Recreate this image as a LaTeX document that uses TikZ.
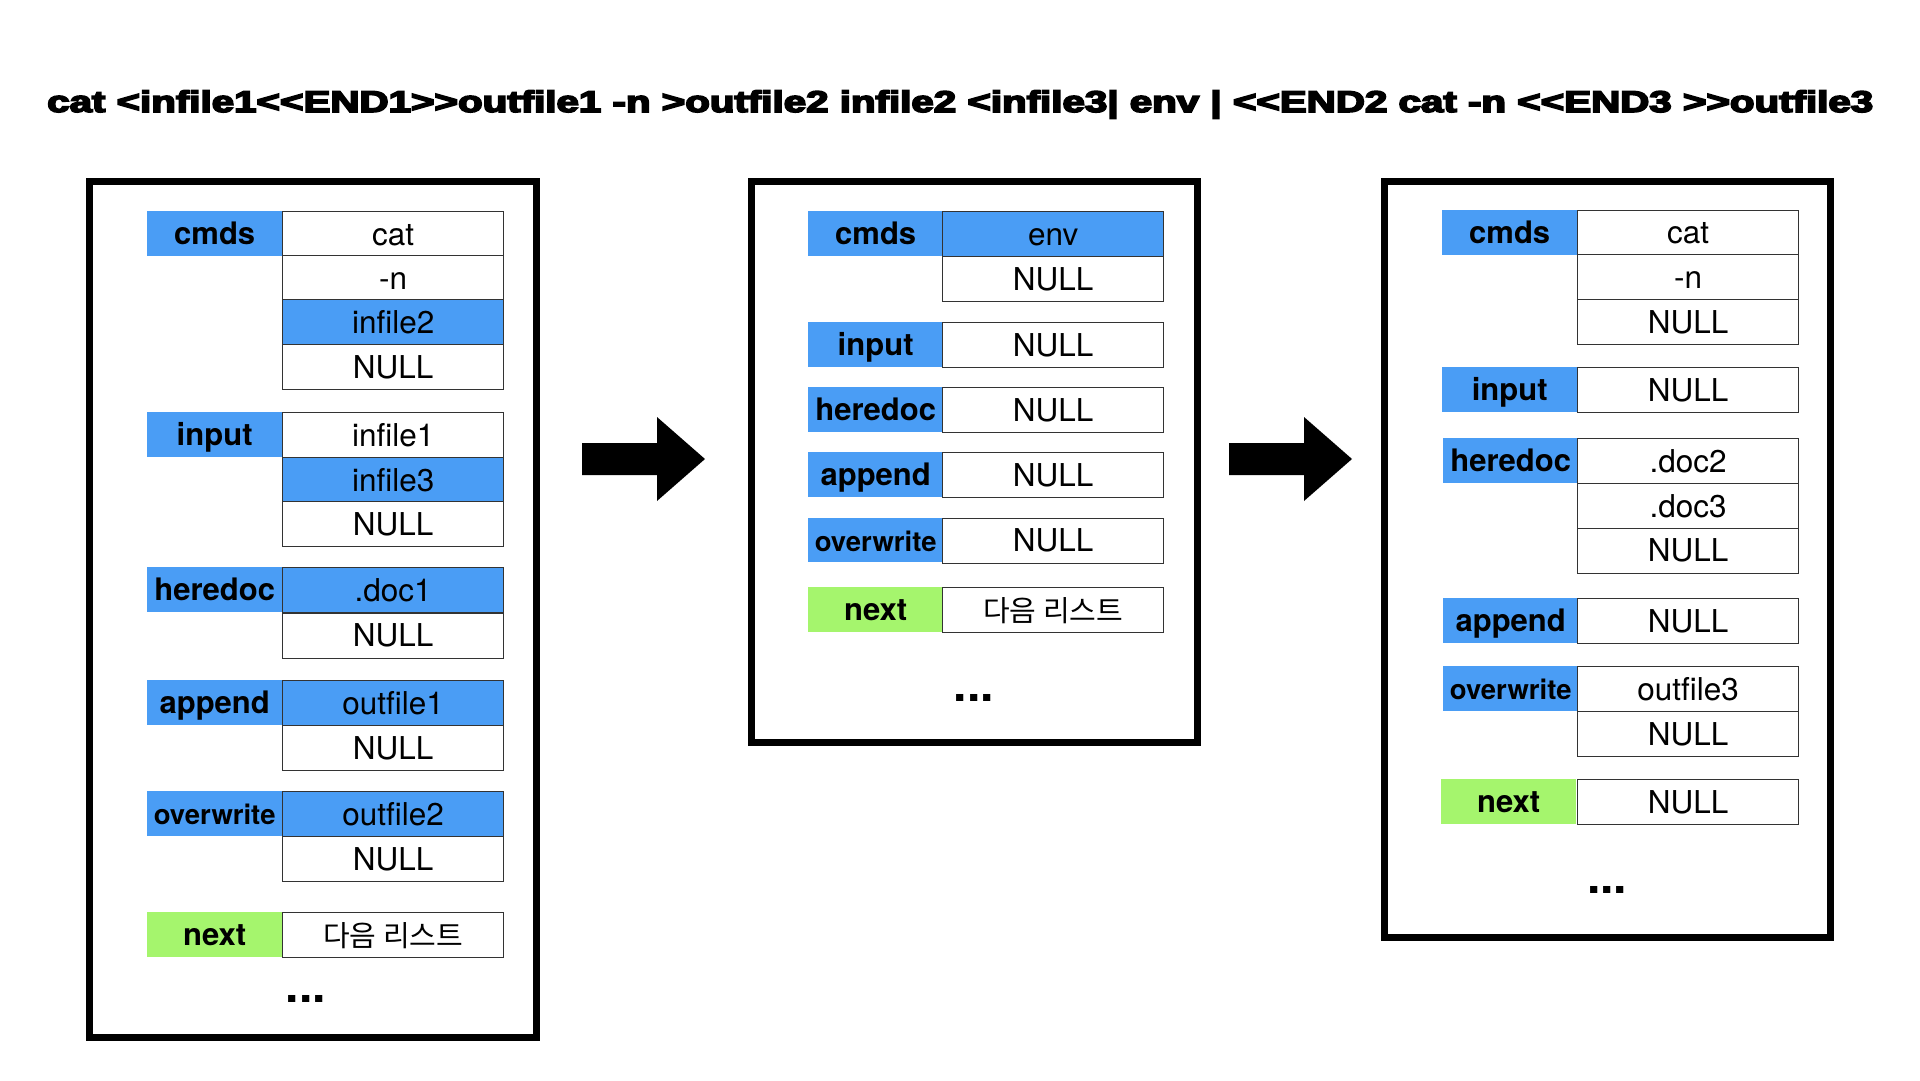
\documentclass[tikz,border=0pt]{standalone}
\usepackage{fontspec}
\usepackage{graphicx}
\setmainfont{TeX Gyre Heros}
\newfontfamily\krfont{Noto Sans CJK KR}
\newfontface\titlefont{Liberation Sans Bold}[FakeBold=5]
\usetikzlibrary{calc}
\definecolor{lblblue}{HTML}{4A9DF5}
\definecolor{lblgreen}{HTML}{A5F56D}
\tikzset{
  lbl/.style={fill=lblblue, minimum width=135pt, minimum height=44.5pt, inner sep=0pt,
    anchor=north west, text height=22.3pt, text depth=0pt,
    font=\fontsize{31}{36}\selectfont\bfseries},
  lblnext/.style={lbl, fill=lblgreen},
  val/.style={draw=black!80, line width=1.4pt, fill=white, minimum width=221pt,
    minimum height=45pt, inner sep=0pt, anchor=north west, text height=22.3pt,
    text depth=0pt, font=\fontsize{31.5}{36}\selectfont},
  valhl/.style={val, fill=lblblue},
  frame/.style={draw=black, line width=7pt, fill=white, inner sep=0pt},
  dotsnode/.style={font=\fontsize{48}{52}\selectfont\bfseries, anchor=base, inner sep=0pt},
  kr/.style={font=\fontsize{29}{34}\krfont},
}
\begin{document}
\begin{tikzpicture}[x=1pt,y=-1pt]
\useasboundingbox[fill=white] (0,0) rectangle (1920,1080);

% title
\node[anchor=base west, inner sep=0pt] (title) at (47,112)
  {\resizebox{1826pt}{\height}{\titlefont\fontsize{30}{36}\selectfont cat <infile1<<END1>>outfile1 -n >outfile2 infile2 <infile3| env | <<END2 cat -n <<END3 >>outfile3}};

% frames
\node[frame, minimum width=446.5pt, minimum height=856pt] (boxL) at (312.75,609) {};
\node[frame, minimum width=446pt, minimum height=561pt] (boxM) at (974,461.5) {};
\node[frame, minimum width=446pt, minimum height=756pt] (boxR) at (1607,559) {};

% arrows
\coordinate (a1s) at (582,459);
\coordinate (a1e) at (705,459);
\coordinate (a2s) at (1229,459);
\coordinate (a2e) at (1352,459);
\fill[black] ($(a1s)+(0,-16)$) -- ($(a1e)+(-48,-16)$) -- ($(a1e)+(-48,-42)$) -- (a1e)
  -- ($(a1e)+(-48,42)$) -- ($(a1e)+(-48,16)$) -- ($(a1s)+(0,16)$) -- cycle;
\fill[black] ($(a2s)+(0,-16)$) -- ($(a2e)+(-48,-16)$) -- ($(a2e)+(-48,-42)$) -- (a2e)
  -- ($(a2e)+(-48,42)$) -- ($(a2e)+(-48,16)$) -- ($(a2s)+(0,16)$) -- cycle;

% ---------- left box ----------
\node[lbl] (Lcmds) at (147,211) {cmds};
\node[val] (Lcmds1) at (282,211) {cat};
\node[val] (Lcmds2) at (282,255) {-n};
\node[valhl] (Lcmds3) at (282,299) {infile2};
\node[val] (Lcmds4) at (282,344) {NULL};

\node[lbl] (Linput) at (147,412) {input};
\node[val] (Linput1) at (282,412) {infile1};
\node[valhl] (Linput2) at (282,457) {infile3};
\node[val] (Linput3) at (282,501) {NULL};

\node[lbl] (Lhere) at (147,567) {heredoc};
\node[valhl] (Lhere1) at (282,567) {.doc1};
\node[val] (Lhere2) at (282,612.5) {NULL};

\node[lbl] (Lapp) at (147,680) {append};
\node[valhl] (Lapp1) at (282,680) {outfile1};
\node[val] (Lapp2) at (282,725) {NULL};

\node[lbl, font=\fontsize{27.5}{32}\selectfont\bfseries] (Lover) at (147,791) {overwrite};
\node[valhl] (Lover1) at (282,791) {outfile2};
\node[val] (Lover2) at (282,836) {NULL};

\node[lblnext] (Lnext) at (147,912) {next};
\node[val, kr] (Lnext1) at (282,912) {다음 리스트};

\node[dotsnode] (Ldots) at (306,1002) {...};

% ---------- middle box ----------
\node[lbl] (Mcmds) at (808,211) {cmds};
\node[valhl] (Mcmds1) at (942,211) {env};
\node[val] (Mcmds2) at (942,256) {NULL};

\node[lbl] (Minput) at (808,322) {input};
\node[val] (Minput1) at (942,322) {NULL};

\node[lbl] (Mhere) at (808,387) {heredoc};
\node[val] (Mhere1) at (942,387) {NULL};

\node[lbl] (Mapp) at (808,452) {append};
\node[val] (Mapp1) at (942,452) {NULL};

\node[lbl, font=\fontsize{27.5}{32}\selectfont\bfseries] (Mover) at (808,517.5) {overwrite};
\node[val] (Mover1) at (942,517.5) {NULL};

\node[lblnext] (Mnext) at (808,587) {next};
\node[val, kr] (Mnext1) at (942,587) {다음 리스트};

\node[dotsnode] (Mdots) at (974,701) {...};

% ---------- right box ----------
\node[lbl] (Rcmds) at (1442,210) {cmds};
\node[val] (Rcmds1) at (1577,209.5) {cat};
\node[val] (Rcmds2) at (1577,254) {-n};
\node[val] (Rcmds3) at (1577,299) {NULL};

\node[lbl] (Rinput) at (1442,367) {input};
\node[val] (Rinput1) at (1577,367) {NULL};

\node[lbl] (Rhere) at (1443,438) {heredoc};
\node[val] (Rhere1) at (1577,438) {.doc2};
\node[val] (Rhere2) at (1577,483) {.doc3};
\node[val] (Rhere3) at (1577,527.5) {NULL};

\node[lbl] (Rapp) at (1443,598) {append};
\node[val] (Rapp1) at (1577,598) {NULL};

\node[lbl, font=\fontsize{27.5}{32}\selectfont\bfseries] (Rover) at (1443,666) {overwrite};
\node[val] (Rover1) at (1577,666) {outfile3};
\node[val] (Rover2) at (1577,711) {NULL};

\node[lblnext] (Rnext) at (1441,779) {next};
\node[val] (Rnext1) at (1577,779) {NULL};

\node[dotsnode] (Rdots) at (1607,893) {...};
\end{tikzpicture}
\end{document}
